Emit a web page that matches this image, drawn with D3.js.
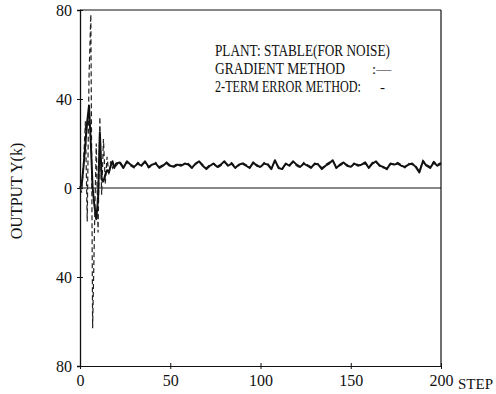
<!DOCTYPE html>
<html>
<head>
<meta charset="utf-8">
<script src="https://cdn.jsdelivr.net/npm/d3@7"></script>
<style>
  body { margin: 0; background: #fff; }
  svg text { font-family: "Liberation Serif", "DejaVu Serif", serif; fill: #111; }
  .axis path, .axis line { stroke: #111; }
</style>
</head>
<body>
<div id="chart"></div>
<script>
// step positions: every step up to 20, then every 2 steps
const steps = d3.range(0, 21).concat(d3.range(22, 201, 2));

// gradient method (solid)
const gradientY = [
  0, 2, 10, 20, 30, 37, 20, 0, -8, -14, -5, 25, 4, 3, 6, 8, 7, 10, 12, 9, 11,
  11.5, 9, 12, 10.5, 9.5, 11, 10, 12, 9.5,
  10.5, 11, 9, 10, 11.5, 10, 9.5, 10.5, 10, 11,
  10.5, 9, 11, 12, 10, 8.5, 10, 11, 9.5, 10.5,
  12, 10, 11, 9, 10.5, 11, 10, 9, 11.5, 10,
  9.5, 11, 10.5, 8.5, 12.5, 9, 8.5, 11, 10, 12,
  10.5, 9.5, 11, 10, 9, 11, 10.5, 8.5, 10, 11,
  12.5, 9, 10.5, 11.5, 10, 9.5, 11, 10, 10.5, 11.5,
  9, 11, 12, 10, 9.5, 8.5, 11, 10.5, 11, 10,
  9.5, 10.5, 11, 9.5, 7, 12, 10, 9, 11.5, 10,
  11
];

// 2-term error method (dashed)
const twoTermY = [
  0, -2, 12, 30, -15, 50, 78, -63, -20, 20, -20, 32, -3, 22, 2, 14, 6, 12, 9, 11, 10,
  12, 9.5, 11.5, 10, 9, 11.5, 10.5, 11.5, 9,
  10, 11.5, 9.5, 10.5, 11, 9.5, 10, 11, 10.5, 10.5,
  11, 9.5, 10.5, 12, 10.5, 9, 10.5, 11, 9, 10,
  11.5, 10.5, 11.5, 9.5, 10, 11.5, 10.5, 9.5, 11, 10.5,
  9, 11.5, 11, 9, 12, 9.5, 9, 10.5, 10.5, 11.5,
  10, 9, 11.5, 10.5, 9.5, 10.5, 11, 9, 10.5, 11.5,
  12, 9.5, 10, 11, 10.5, 9, 11.5, 10.5, 10, 11,
  9.5, 11.5, 11.5, 10.5, 9, 9, 10.5, 11, 11.5, 10.5,
  9, 11, 10.5, 10, 7.5, 12.5, 10.5, 9.5, 12, 10.5,
  11.5
];

const xTicks = [0, 50, 100, 150, 200];
const yTicks = [-80, -40, 0, 40, 80];

const legendLines = ["PLANT: STABLE(FOR NOISE)", "GRADIENT METHOD", "2-TERM ERROR METHOD:"];
const legendKeys = [":\u2014", "-"];

const W = 496, H = 394;
const svg = d3.select("#chart").append("svg")
  .attr("width", W).attr("height", H);

const x = d3.scaleLinear().domain([0, 200]).range([80, 441]);
const y = d3.scaleLinear().domain([-80, 80]).range([366, 10]);

// squeeze a text horizontally to a target width (condensed typewriter look)
function squeeze(sel, px, py, target) {
  const w = sel.node().getComputedTextLength();
  sel.attr("transform", `translate(${px},${py}) scale(${target / w},1)`);
}

// frame top/right and zero line
svg.append("line").attr("x1", x(0)).attr("x2", x(200)).attr("y1", y(80)).attr("y2", y(80))
  .attr("stroke", "#111").attr("stroke-width", 1.2);
svg.append("line").attr("x1", x(200)).attr("x2", x(200)).attr("y1", y(80)).attr("y2", y(-80))
  .attr("stroke", "#111").attr("stroke-width", 1.2);
svg.append("line").attr("x1", x(0)).attr("x2", x(200)).attr("y1", y(0)).attr("y2", y(0))
  .attr("stroke", "#111").attr("stroke-width", 1);

// axes
const yAxis = svg.append("g").attr("class", "axis")
  .attr("transform", `translate(${x(0)},0)`)
  .call(d3.axisLeft(y).tickValues(yTicks).tickSize(3).tickPadding(5)
    .tickFormat(d => Math.abs(d)));
yAxis.select(".domain").attr("stroke-width", 1.3);
yAxis.selectAll("text").style("font-size", "16px").attr("fill", "#111");
svg.append("g").attr("class", "axis")
  .attr("transform", `translate(${x(0)},0)`)
  .call(d3.axisRight(y).tickValues(yTicks).tickSize(3).tickFormat(""))
  .select(".domain").remove();

const xAxis = svg.append("g").attr("class", "axis")
  .attr("transform", `translate(0,${y(-80)})`)
  .call(d3.axisBottom(x).tickValues(xTicks).tickSize(3).tickSizeOuter(0).tickPadding(6));
xAxis.select(".domain").attr("stroke-width", 1.2);
xAxis.selectAll("text").style("font-size", "16px").attr("fill", "#111");
svg.append("g").attr("class", "axis")
  .attr("transform", `translate(0,${y(-80)})`)
  .call(d3.axisTop(x).tickValues(xTicks).tickSize(3).tickFormat(""))
  .select(".domain").remove();

svg.append("text").attr("x", 458).attr("y", 389)
  .style("font-size", "15px").text("STEP");

svg.append("text")
  .attr("transform", `translate(22,191) rotate(-90)`)
  .attr("text-anchor", "middle")
  .style("font-size", "16px")
  .text("OUTPUT Y(k)");

// series
const line = d3.line().x((d, i) => x(steps[i])).y(d => y(d));
svg.append("path").datum(twoTermY)
  .attr("d", line).attr("fill", "none")
  .attr("stroke", "#222").attr("stroke-width", 1.2)
  .attr("stroke-dasharray", "5,3");
svg.append("path").datum(gradientY)
  .attr("d", line).attr("fill", "none")
  .attr("stroke", "#111").attr("stroke-width", 2)
  .attr("stroke-linejoin", "round");

// legend
const legendY = [56, 74, 92];
const legendW = [175, 130, 146];
legendLines.forEach((t, i) => {
  const tx = svg.append("text")
    .style("font-size", "16px")
    .text(t);
  squeeze(tx, 215, legendY[i], legendW[i]);
});
svg.append("text").attr("x", 372).attr("y", legendY[1])
  .style("font-size", "15px").text(legendKeys[0]);
svg.append("text").attr("x", 380).attr("y", legendY[2])
  .style("font-size", "15px").text(legendKeys[1]);
</script>
</body>
</html>
